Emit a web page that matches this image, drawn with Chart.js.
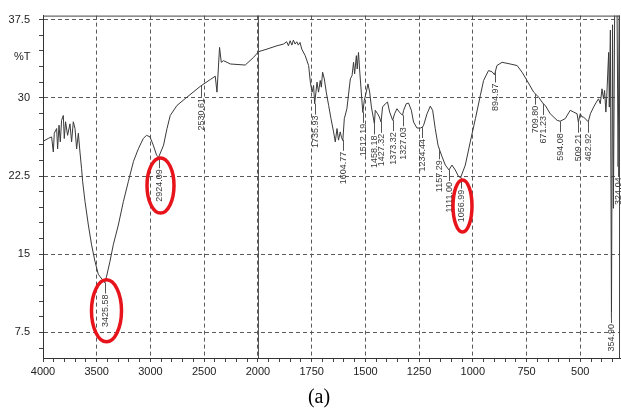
<!DOCTYPE html>
<html><head><meta charset="utf-8">
<script src="https://cdn.jsdelivr.net/npm/chart.js@4/dist/chart.umd.min.js"></script>
<style>html,body{margin:0;padding:0;background:#fff}#wrap{width:621px;height:415px;position:relative}</style>
</head><body><div id="wrap"><canvas id="c" width="621" height="415"></canvas></div>
<script>
// ---- data (wavenumber in cm-1, transmittance in %T) ----
const wavenumbers = [4000,3981,3951,3920,3904,3895,3873,3864,3851,3839,3827,3811,3802,3790,3771,3749,3734,3718,3702,3687,3671,3656,3641,3631,3609,3578,3548,3516,3485,3426,3408,3377,3346,3299,3252,3206,3158,3113,3067,3036,3004,2974,2943,2924,2878,2846,2816,2753,2660,2536,2443,2397,2381,2357,2341,2320,2257,2118,2040,1997,1958,1911,1881,1866,1858,1850,1842,1835,1827,1819,1812,1804,1796,1780,1764,1756,1748,1741,1736,1725,1718,1710,1705,1699,1691,1682,1671,1660,1648,1640,1632,1625,1617,1611,1605,1598,1586,1570,1562,1555,1550,1542,1538,1532,1527,1519,1512,1505,1496,1488,1480,1472,1458,1454,1443,1435,1427,1420,1407,1397,1387,1373,1364,1353,1342,1327,1322,1310,1299,1286,1276,1260,1244,1234,1229,1213,1198,1187,1175,1162,1157,1143,1128,1111,1097,1082,1066,1057,1035,1012,988,965,950,927,911,899,888,864,826,794,771,748,717,710,694,678,671,663,640,608,594,585,570,547,531,515,509,500,492,485,463,453,438,425,415,407,399,392,387,381,377,368,365,360,355,350,346,340,329,324,319,315];
const transmittance = [25.8,25.93,26.1,26.25,24.8,26.6,27.05,25.1,27.37,25.77,27.84,28.3,26.1,27.7,26.4,27.5,25.77,27.7,27.05,25.1,26.6,24.8,23.2,21.96,20.05,17.8,15.9,14.3,13.07,12.27,12.9,14.3,15.9,17.8,20.05,21.96,23.9,25.1,26.1,26.4,26.25,25.46,24.5,24.3,25.46,27.05,28.3,29.27,30.06,31.1,31.75,32.07,30.54,34.83,33.4,33.56,33.24,33.14,33.88,34.42,34.67,34.99,35.15,35.37,34.99,35.47,35.05,35.53,35.15,35.37,35.05,35.31,34.67,34.04,33.09,31.5,30.54,31.18,29.43,31.5,30.54,31.66,31.02,32.45,31.81,30.54,29.27,28.0,26.73,25.77,27.05,25.94,26.73,26.2,25.9,28.0,28.95,31.81,32.13,33.4,32.29,34.04,32.76,34.35,32.76,30.54,28.6,29.75,30.54,31.33,30.54,29.11,27.52,28.8,28.47,28.16,27.68,29.11,29.43,29.59,28.63,27.84,28.47,28.95,28.63,28.32,28.8,29.43,29.49,28.8,27.68,27.1,27.1,27.2,27.37,28.47,29.2,28.8,27.05,25.46,25.14,24.34,23.55,23.08,23.55,23.08,22.44,22.34,23.55,25.77,28.0,30.23,31.66,32.61,32.5,32.2,33.09,33.4,33.24,33.09,32.45,31.66,30.54,30.4,30.06,29.59,29.4,29.27,28.47,27.84,27.75,27.84,28.0,28.8,28.63,28.47,27.68,28.47,28.16,28.16,27.7,28.47,29.11,29.59,29.9,29.43,30.86,29.9,30.7,28.63,30.06,34.35,29.11,36.5,8.9,37.0,19.4,38.5,38.5,23.4,38.5,38.5];
const xTickLabels = ['4000','3500','3000','2500','2000','1750','1500','1250','1000','750','500'];
const yTickLabels = ['7.5','15','22.5','30','37.5'];
const peakLabels = ['3425.58','2924.09','2530.61','1735.93','1604.77','1512.19','1458.18','1427.32','1373.32','1327.03','1234.44','1157.29','1111.00','1056.99','894.97','709.80','671.23','594.08','509.21','462.92','354.90','324.04'];
const highlightedPeaks = ['3425.58','2924.09','1056.99'];
const yAxisLabel = '%T';
const caption = '(a)';

// axis: 4000-2000 at 500 per division, below 2000 at 250 per division
function wnToPos(w){ return w >= 2000 ? (4000 - w) / 500 : 4 + (2000 - w) / 250; }
function interpT(w){
  for (let i = 0; i < wavenumbers.length - 1; i++) {
    const a = wavenumbers[i], b = wavenumbers[i+1];
    if (w <= a && w >= b) { const t = (a - w) / (a - b); return transmittance[i] + t * (transmittance[i+1] - transmittance[i]); }
  }
  return transmittance[transmittance.length - 1];
}
const points = wavenumbers.map((w, i) => ({x: wnToPos(w), y: transmittance[i]}));
const isInt = v => Math.abs(v - Math.round(v)) < 1e-6;
const yMajor = v => yTickLabels.some(l => Math.abs(parseFloat(l) - v) < 1e-6);
const FONT = '"Liberation Sans", Arial, sans-serif';

const extras = {
  id: 'extras',
  afterDatasetsDraw(chart) {
    const {ctx, chartArea: a, scales: {x, y}} = chart;
    ctx.save();
    // frame
    ctx.strokeStyle = '#444'; ctx.lineWidth = 1; ctx.setLineDash([]);
    ctx.beginPath();
    ctx.moveTo(a.left, a.top + 0.5); ctx.lineTo(a.right, a.top + 0.5);
    ctx.moveTo(a.right - 0.5, a.top); ctx.lineTo(a.right - 0.5, a.bottom);
    ctx.stroke();
    // solid grid line at the scale break (2000)
    const px2000 = Math.round(x.getPixelForValue(wnToPos(2000))) + 0.5;
    ctx.strokeStyle = '#555';
    ctx.beginPath(); ctx.moveTo(px2000, a.top); ctx.lineTo(px2000, a.bottom); ctx.stroke();
    // peak labels
    ctx.font = '9px ' + FONT;
    const lead = 11;
    const boxes = {};
    peakLabels.forEach(lbl => {
      const w = parseFloat(lbl);
      const px = Math.round(x.getPixelForValue(wnToPos(w))) + 0.5;
      const py = y.getPixelForValue(Math.min(interpT(w), 37.8));
      ctx.strokeStyle = '#555'; ctx.lineWidth = 1;
      ctx.beginPath(); ctx.moveTo(px, py); ctx.lineTo(px, py + lead); ctx.stroke();
      ctx.save();
      ctx.translate(px, py + lead + 1);
      ctx.rotate(-Math.PI / 2);
      ctx.fillStyle = '#3a3a3a'; ctx.textAlign = 'right'; ctx.textBaseline = 'middle';
      ctx.fillText(lbl, 0, 0);
      ctx.restore();
      const len = ctx.measureText(lbl).width;
      boxes[lbl] = {x: px, y: py + lead + 1 + len / 2, len};
    });
    // red ellipses
    const ellipseSize = {'3425.58': [15, 31], '2924.09': [13.5, 27.5], '1056.99': [9.5, 26]};
    ctx.strokeStyle = '#e8141c'; ctx.lineWidth = 3.5;
    highlightedPeaks.forEach(lbl => {
      const b = boxes[lbl]; const [rx, ry] = ellipseSize[lbl];
      ctx.beginPath(); ctx.ellipse(b.x + 1, b.y, rx, ry, 0, 0, Math.PI * 2); ctx.stroke();
    });
    // %T label
    ctx.fillStyle = '#222'; ctx.font = '11px ' + FONT; ctx.textAlign = 'left'; ctx.textBaseline = 'middle';
    ctx.fillText(yAxisLabel, 14, 57);
    // caption
    ctx.fillStyle = '#000'; ctx.font = '20px "Liberation Serif", "Times New Roman", serif'; ctx.textAlign = 'center';
    ctx.fillText(caption, 319, 398);
    ctx.restore();
  }
};

new Chart(document.getElementById('c'), {
  type: 'line',
  data: { datasets: [{ data: points, borderColor: '#3a3a3a', borderWidth: 1, pointRadius: 0, tension: 0, fill: false }] },
  options: {
    responsive: false, animation: false, devicePixelRatio: 1,
    layout: { padding: { top: 13, right: 1, left: 0, bottom: 0 } },
    plugins: { legend: { display: false }, tooltip: { enabled: false } },
    scales: {
      x: {
        type: 'linear', min: 0, max: 10.739,
        afterBuildTicks: s => { const t = []; for (let i = 0; i <= 53; i++) t.push({value: +(i * 0.2).toFixed(1)}); s.ticks = t; },
        afterFit: s => { s.height = 57; },
        ticks: { autoSkip: false, maxRotation: 0, minRotation: 0, padding: 3, color: '#222', font: { family: FONT, size: 11 },
          callback: v => isInt(v) ? (xTickLabels[Math.round(v)] || '') : '' },
        grid: { color: c => (c.tick && isInt(c.tick.value) && c.tick.value > 0) ? '#5a5a5a' : 'rgba(0,0,0,0)',
          tickColor: '#444', tickLength: 4, lineWidth: 1, tickBorderDash: [] },
        border: { display: true, color: '#333', width: 1, dash: [4, 3] }
      },
      y: {
        type: 'linear', min: 5.05, max: 37.88,
        afterBuildTicks: s => { const t = []; for (let i = 4; i <= 25; i++) t.push({value: +(i * 1.5).toFixed(1)}); s.ticks = t; },
        afterFit: s => { s.width = 43; },
        ticks: { autoSkip: false, padding: 9, color: '#222', font: { family: FONT, size: 11 },
          callback: v => { const l = yTickLabels.find(l => Math.abs(parseFloat(l) - v) < 1e-6); return l || ''; } },
        grid: { color: c => (c.tick && yMajor(c.tick.value) && c.tick.value < 37.6) ? '#5a5a5a' : 'rgba(0,0,0,0)',
          tickColor: '#444', tickLength: 4, lineWidth: 1, tickBorderDash: [] },
        border: { display: true, color: '#333', width: 1, dash: [4, 3] }
      }
    }
  },
  plugins: [extras]
});
</script></body></html>
